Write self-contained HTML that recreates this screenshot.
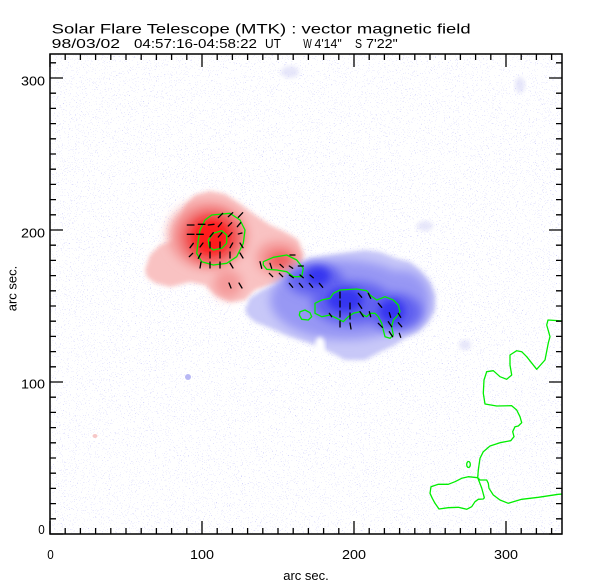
<!DOCTYPE html>
<html><head><meta charset="utf-8"><style>
html,body{margin:0;padding:0;background:#fff;}
svg{display:block;}
text{font-family:"Liberation Sans",sans-serif;fill:#000;}
</style></head><body>
<svg width="612" height="585" viewBox="0 0 612 585" xmlns="http://www.w3.org/2000/svg">
<defs>
<filter id="b2" x="-20%" y="-20%" width="140%" height="140%"><feGaussianBlur stdDeviation="2"/></filter>
<filter id="b4" x="-50%" y="-50%" width="200%" height="200%"><feGaussianBlur stdDeviation="4"/></filter>
<filter id="b5" x="-50%" y="-50%" width="200%" height="200%"><feGaussianBlur stdDeviation="5"/></filter>
<filter id="spk" x="0" y="0" width="100%" height="100%" color-interpolation-filters="sRGB">
<feTurbulence type="fractalNoise" baseFrequency="0.85" numOctaves="2" seed="7"/>
<feColorMatrix type="matrix" values="0 0 0 0 0.78  0 0 0 0 0.78  0 0 0 0 0.98  40 0 0 0 -27.4"/>
</filter>
<clipPath id="plot"><rect x="50" y="54" width="512" height="480"/></clipPath>
</defs>
<rect width="612" height="585" fill="#fff"/>
<g clip-path="url(#plot)">
<rect x="50" y="54" width="512" height="480" filter="url(#spk)" opacity="0.75"/>
<!-- faint clusters -->
<ellipse cx="290" cy="72" rx="9" ry="6" fill="#dcdcf8" filter="url(#b2)" opacity="0.7"/>
<ellipse cx="520" cy="85" rx="5" ry="8" fill="#dcdcf8" filter="url(#b2)" opacity="0.7"/>
<ellipse cx="425" cy="226" rx="8" ry="5" fill="#dcdcf8" filter="url(#b2)" opacity="0.7"/>
<ellipse cx="465" cy="345" rx="6" ry="5" fill="#dcdcf8" filter="url(#b2)" opacity="0.7"/>
<ellipse cx="188" cy="377" rx="3" ry="3" fill="#b8b8f4"/>
<ellipse cx="95" cy="436" rx="2.5" ry="2" fill="#f6c8c8"/>
<!-- red blob -->
<polygon fill="#f9c2c2" filter="url(#b2)" points="145,270 150,255 160,245 175,240 180,225 185,205 195,195 210,191 225,194 240,204 255,215 270,225 285,232 298,240 303,255 300,268 290,280 270,285 255,290 245,300 230,302 215,295 205,285 190,282 170,287 155,283 147,277"/>
<g fill="#f49a9a" filter="url(#b5)">
<ellipse cx="208" cy="235" rx="40" ry="34"/>
<ellipse cx="278" cy="258" rx="22" ry="17"/>
<ellipse cx="228" cy="284" rx="14" ry="14"/>
</g>
<g fill="#f05a5a" filter="url(#b5)">
<ellipse cx="211" cy="237" rx="30" ry="27"/>
<ellipse cx="280" cy="260" rx="12" ry="8"/>
</g>
<ellipse cx="211" cy="237" rx="19" ry="18" fill="#ff1c1c" filter="url(#b4)"/>
<!-- blue blob -->
<polygon fill="#c8c8f8" filter="url(#b2)" points="245,310 250,298 262,290 275,285 290,275 300,265 310,258 330,255 350,252 365,250 380,252 395,258 410,262 420,270 430,282 435,295 435,310 428,322 418,332 405,338 395,345 380,352 365,360 345,360 330,352 315,345 300,340 285,335 270,328 255,322 248,316"/>
<g fill="#9898f4" filter="url(#b5)">
<ellipse cx="345" cy="300" rx="75" ry="40"/>
<ellipse cx="402" cy="300" rx="28" ry="30"/>
</g>
<g fill="#6262f0" filter="url(#b5)">
<ellipse cx="315" cy="280" rx="28" ry="16"/>
<ellipse cx="352" cy="303" rx="40" ry="22"/>
<ellipse cx="395" cy="312" rx="27" ry="19"/>
</g>
<g fill="#3434f0" filter="url(#b4)">
<ellipse cx="318" cy="276" rx="12" ry="9"/>
<ellipse cx="345" cy="300" rx="18" ry="12"/>
<ellipse cx="392" cy="311" rx="13" ry="12"/>
</g>
<ellipse cx="320" cy="346" rx="5" ry="9" fill="#fff" filter="url(#b2)"/>
<!-- green contours -->
<g fill="none" stroke="#00ee00" stroke-width="1.3" stroke-linejoin="round">
<path d="M211.7,215 L230,213.3 L240,220 L245,230 L243.3,243.3 L236.7,256.7 L226.7,263.3 L213.3,265 L201.7,261.7 L196.7,253.3 L198.3,240 L200,230 L205,220 Z"/>
<path d="M213.3,233.3 L221.7,230.7 L226.7,235 L226.7,243.3 L221.7,248.3 L213.3,250 L209.3,246.7 L208.3,240 Z"/>
<path d="M263.3,261.7 L273.3,257.3 L286.7,255 L296.7,260 L303.3,268.3 L301.7,276.7 L293.3,276.7 L286.7,271.7 L276.7,270 L266.7,269.3 L263.3,265 Z"/>
<path d="M315,303.3 L321.7,300 L330,298.3 L333.3,293.3 L340,290 L356.7,289 L366.7,290.7 L370,295 L376.7,300 L385,296.7 L393.3,300 L398.3,305 L400,311.7 L396.7,316.7 L393.3,320 L391.7,326.7 L393.3,335 L390,338.3 L385,336.7 L383.3,330 L381.7,323.3 L378.3,316.7 L375,313.3 L370,313.3 L366.7,316.7 L363.3,315 L360,311.7 L353.3,313.3 L348.3,316.7 L343.3,321.7 L336.7,318.3 L330,315 L321.7,316.7 L315,313.3 Z"/>
<path d="M300,311.7 L305,310 L310,312.7 L311.7,316.7 L308.3,320 L301.7,319.3 L299.3,315 Z"/>
<path d="M563,321 L548,320 L546.7,325 L550,336.7 L548.3,343 L545,360 L536.7,369.3 L526.7,356.7 L521.7,351.7 L516.7,350.7 L510,355 L510,365 L511.7,375 L506.7,379.3 L500,376.7 L493.3,370.7 L486.7,371.7 L484,380 L483.3,393.3 L485,404 L496.7,406 L511.7,405.7 L516.7,410 L520,416.7 L521.7,422.7 L518.3,426 L515,426.7 L512.7,431.7 L514,436.7 L510.7,440.7 L500,442.7 L490,446 L483.3,451.7 L480,458.3 L478.3,470 L477.7,477.7 L480,480 L486.7,480 L488.3,483.3 L489,488.3 L493.3,495 L500,500 L508.3,503.3 L521.7,499.3 L538.3,497.3 L558.3,494.3 L563,494"/>
<path d="M477.7,477.7 L481.7,488 L484.3,497.7 L483.3,499 L478.3,499.3 L475,501.7 L471.7,506.7 L466.7,509.3 L458.3,507.3 L448.3,507.7 L439,509 L435,503.3 L432.3,498.3 L430,493.3 L431,486.7 L438.3,484.3 L448.3,484.3 L455,481.7 L461.7,478.3 L468.3,476.7 Z"/>
<ellipse cx="468.5" cy="464.5" rx="1.8" ry="3"/>
</g>
<!-- vectors -->
<g stroke="#000" stroke-width="1.3" stroke-linecap="round">
<line x1="218.3" y1="217.7" x2="222.7" y2="213.3"/><line x1="228.3" y1="216.7" x2="232.7" y2="212.7"/><line x1="238.3" y1="217.3" x2="242.7" y2="212.7"/>
<line x1="187.3" y1="225" x2="194" y2="225"/><line x1="198.3" y1="224.3" x2="205" y2="224.3"/><line x1="208.3" y1="225" x2="214" y2="224.3"/><line x1="218.3" y1="226.7" x2="221.7" y2="222.7"/><line x1="228.3" y1="226" x2="231.7" y2="222.7"/><line x1="237.3" y1="226.7" x2="240.7" y2="222.7"/>
<line x1="187.3" y1="234.3" x2="194" y2="234.3"/><line x1="196.7" y1="234.3" x2="203.3" y2="234.3"/><line x1="210" y1="236.7" x2="213.3" y2="232.7"/><line x1="218.3" y1="237" x2="222" y2="232.7"/><line x1="228.3" y1="236.7" x2="232" y2="232.7"/><line x1="238.3" y1="234" x2="242" y2="233"/>
<line x1="190" y1="247.7" x2="193.3" y2="243.3"/><line x1="200" y1="247" x2="203" y2="243"/><line x1="210" y1="248" x2="210" y2="242"/><line x1="220" y1="248" x2="220" y2="242"/><line x1="230" y1="247.7" x2="232.7" y2="243"/><line x1="240" y1="243" x2="243" y2="247.7"/>
<line x1="189.3" y1="256.7" x2="192.7" y2="253.3"/><line x1="198.3" y1="258.3" x2="201" y2="253.3"/><line x1="210" y1="258" x2="210" y2="252"/><line x1="220" y1="258" x2="220" y2="252"/><line x1="230" y1="258" x2="230" y2="252"/><line x1="240" y1="253" x2="243" y2="258"/>
<line x1="200" y1="268" x2="201" y2="262"/><line x1="210" y1="268" x2="210" y2="262"/><line x1="220" y1="268" x2="220" y2="262"/><line x1="230" y1="263" x2="233" y2="268"/>
<line x1="229" y1="283" x2="231" y2="288"/><line x1="239" y1="283" x2="242" y2="288"/>
<line x1="260" y1="261.7" x2="261.7" y2="268.3"/><line x1="270" y1="263.3" x2="271.7" y2="268.3"/><line x1="280" y1="264.3" x2="283.3" y2="267.3"/><line x1="289.3" y1="266" x2="292.7" y2="268.3"/><line x1="290" y1="255" x2="295" y2="255"/><line x1="298.3" y1="266" x2="303.3" y2="266"/>
<line x1="269.3" y1="273.3" x2="272.7" y2="276.7"/><line x1="279.3" y1="273.3" x2="282.7" y2="276.7"/><line x1="289.3" y1="275" x2="293.3" y2="277.7"/><line x1="300" y1="275" x2="303.3" y2="277.7"/><line x1="310" y1="275" x2="313.3" y2="277.7"/>
<line x1="289.3" y1="283.3" x2="292.7" y2="287.3"/><line x1="299.3" y1="283.3" x2="302.7" y2="287.3"/><line x1="309.3" y1="283.3" x2="312.7" y2="287.3"/><line x1="319.3" y1="283.3" x2="322.7" y2="287.3"/>
<line x1="340" y1="292" x2="340" y2="298"/><line x1="340" y1="301" x2="340" y2="307"/><line x1="340" y1="311" x2="340" y2="317"/><line x1="340" y1="321" x2="340" y2="327"/>
<line x1="350" y1="303" x2="350" y2="309"/><line x1="350" y1="313" x2="350" y2="319"/><line x1="350" y1="323" x2="351" y2="329"/>
<line x1="358.3" y1="293.3" x2="361.7" y2="297.3"/><line x1="358.3" y1="303.3" x2="361.7" y2="308.3"/><line x1="360" y1="311.7" x2="363.3" y2="316.7"/>
<line x1="368.3" y1="293.3" x2="370.7" y2="298.3"/><line x1="369.3" y1="311.7" x2="370.7" y2="316.7"/>
<line x1="378.3" y1="303.3" x2="381.7" y2="307.3"/><line x1="378.3" y1="323.3" x2="382.3" y2="327.3"/>
<line x1="389.3" y1="312.7" x2="390.7" y2="317.3"/><line x1="388.3" y1="321.7" x2="391.7" y2="326.7"/><line x1="389.3" y1="331.7" x2="392.7" y2="336.7"/>
<line x1="398.3" y1="313.3" x2="400.7" y2="317.3"/><line x1="398.3" y1="322.7" x2="401.7" y2="326.7"/><line x1="399.3" y1="333.3" x2="400.7" y2="337.3"/>
<line x1="329.3" y1="313.3" x2="331.7" y2="316.7"/>
</g>
</g>
<!-- axes box -->
<rect x="50" y="54" width="512" height="480" fill="none" stroke="#000" stroke-width="1.5"/>
<g stroke="#000" stroke-width="1.3">
<path d="M50,534v-13 M65.2,534v-6 M80.4,534v-6 M95.6,534v-6 M110.8,534v-6 M126,534v-6 M141.2,534v-6 M156.4,534v-6 M171.6,534v-6 M186.8,534v-6 M202,534v-13 M217.2,534v-6 M232.4,534v-6 M247.6,534v-6 M262.8,534v-6 M278,534v-6 M293.2,534v-6 M308.4,534v-6 M323.6,534v-6 M338.8,534v-6 M354,534v-13 M369.2,534v-6 M384.4,534v-6 M399.6,534v-6 M414.8,534v-6 M430,534v-6 M445.2,534v-6 M460.4,534v-6 M475.6,534v-6 M490.8,534v-6 M506,534v-13 M521.2,534v-6 M536.4,534v-6 M551.6,534v-6"/>
<path d="M50,54v13 M65.2,54v6 M80.4,54v6 M95.6,54v6 M110.8,54v6 M126,54v6 M141.2,54v6 M156.4,54v6 M171.6,54v6 M186.8,54v6 M202,54v13 M217.2,54v6 M232.4,54v6 M247.6,54v6 M262.8,54v6 M278,54v6 M293.2,54v6 M308.4,54v6 M323.6,54v6 M338.8,54v6 M354,54v13 M369.2,54v6 M384.4,54v6 M399.6,54v6 M414.8,54v6 M430,54v6 M445.2,54v6 M460.4,54v6 M475.6,54v6 M490.8,54v6 M506,54v13 M521.2,54v6 M536.4,54v6 M551.6,54v6"/>
<path d="M50,534h13 M50,518.8h6 M50,503.6h6 M50,488.4h6 M50,473.2h6 M50,458h6 M50,442.8h6 M50,427.6h6 M50,412.4h6 M50,397.2h6 M50,382h13 M50,366.8h6 M50,351.6h6 M50,336.4h6 M50,321.2h6 M50,306h6 M50,290.8h6 M50,275.6h6 M50,260.4h6 M50,245.2h6 M50,230h13 M50,214.8h6 M50,199.6h6 M50,184.4h6 M50,169.2h6 M50,154h6 M50,138.8h6 M50,123.6h6 M50,108.4h6 M50,93.2h6 M50,78h13 M50,62.8h6"/>
<path d="M562,534h-13 M562,518.8h-6 M562,503.6h-6 M562,488.4h-6 M562,473.2h-6 M562,458h-6 M562,442.8h-6 M562,427.6h-6 M562,412.4h-6 M562,397.2h-6 M562,382h-13 M562,366.8h-6 M562,351.6h-6 M562,336.4h-6 M562,321.2h-6 M562,306h-6 M562,290.8h-6 M562,275.6h-6 M562,260.4h-6 M562,245.2h-6 M562,230h-13 M562,214.8h-6 M562,199.6h-6 M562,184.4h-6 M562,169.2h-6 M562,154h-6 M562,138.8h-6 M562,123.6h-6 M562,108.4h-6 M562,93.2h-6 M562,78h-13 M562,62.8h-6"/>
</g>
<!-- titles -->
<text x="51.7" y="33.7" font-size="14" textLength="419" lengthAdjust="spacingAndGlyphs">Solar Flare Telescope (MTK) : vector magnetic field</text>
<g font-size="13">
<text x="51.7" y="48" textLength="68.3" lengthAdjust="spacingAndGlyphs">98/03/02</text>
<text x="134" y="48" textLength="123" lengthAdjust="spacingAndGlyphs">04:57:16-04:58:22</text>
<text x="265" y="48" textLength="16" lengthAdjust="spacingAndGlyphs">UT</text>
<text x="303.3" y="48" textLength="8.5" lengthAdjust="spacingAndGlyphs">W</text>
<text x="314.5" y="48" textLength="27.2" lengthAdjust="spacingAndGlyphs">4'14"</text>
<text x="355" y="48" textLength="7" lengthAdjust="spacingAndGlyphs">S</text>
<text x="366" y="48" textLength="31.7" lengthAdjust="spacingAndGlyphs">7'22"</text>
</g>
<!-- tick labels -->
<g font-size="13">
<text x="47.3" y="559" textLength="6.5" lengthAdjust="spacingAndGlyphs">0</text>
<text x="190" y="559" textLength="24" lengthAdjust="spacingAndGlyphs">100</text>
<text x="342" y="559" textLength="24" lengthAdjust="spacingAndGlyphs">200</text>
<text x="494" y="559" textLength="24" lengthAdjust="spacingAndGlyphs">300</text>
<text x="38.3" y="534" textLength="6.5" lengthAdjust="spacingAndGlyphs">0</text>
<text x="21" y="388.3" textLength="24" lengthAdjust="spacingAndGlyphs">100</text>
<text x="21" y="237.7" textLength="24" lengthAdjust="spacingAndGlyphs">200</text>
<text x="21" y="85.5" textLength="24" lengthAdjust="spacingAndGlyphs">300</text>
</g>
<text x="306" y="580" font-size="13" text-anchor="middle">arc sec.</text>
<text transform="translate(16.7,288.5) rotate(-90)" font-size="13" text-anchor="middle">arc sec.</text>
</svg>
</body></html>
